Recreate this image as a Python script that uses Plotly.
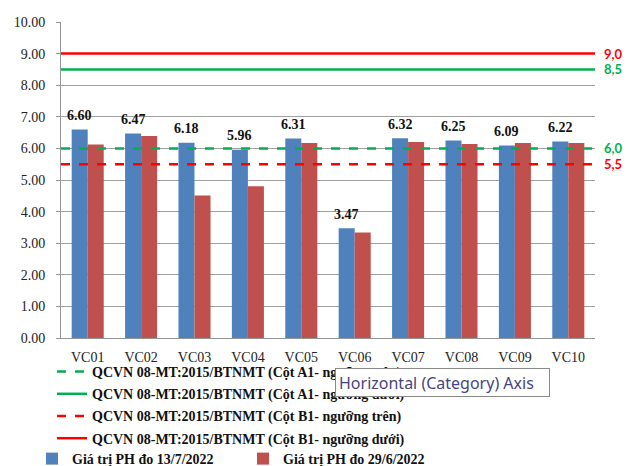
import plotly.graph_objects as go

categories = ["VC01", "VC02", "VC03", "VC04", "VC05", "VC06", "VC07", "VC08", "VC09", "VC10"]
ph_13_7 = [6.60, 6.47, 6.18, 5.96, 6.31, 3.47, 6.32, 6.25, 6.09, 6.22]
ph_29_6 = [6.12, 6.39, 4.51, 4.80, 6.17, 3.34, 6.20, 6.14, 6.17, 6.17]
label_13_7 = ["6.60", "6.47", "6.18", "5.96", "6.31", "3.47", "6.32", "6.25", "6.09", "6.22"]

limit_names = [
    "QCVN 08-MT:2015/BTNMT (Cột A1- ngưỡng trên)",
    "QCVN 08-MT:2015/BTNMT (Cột A1- ngưỡng dưới)",
    "QCVN 08-MT:2015/BTNMT (Cột B1- ngưỡng trên)",
    "QCVN 08-MT:2015/BTNMT (Cột B1- ngưỡng dưới)",
]
limit_values = [6.0, 8.5, 5.5, 9.0]
limit_labels = ["6,0", "8,5", "5,5", "9,0"]
limit_colors = ["#00B050", "#00B050", "#FF0000", "#FF0000"]
limit_dash = ["dash", "solid", "dash", "solid"]

bar_names = ["Giá trị PH đo 13/7/2022", "Giá trị PH đo 29/6/2022"]
bar_colors = ["#4F81BD", "#C0504D"]

tooltip_text = "Horizontal (Category) Axis"

SERIF = "Liberation Serif"
W, H = 630, 466
ML, MR, MT, MB = 61, 35, 22, 128
PW, PH = W - ML - MR, H - MT - MB

fig = go.Figure()

fig.add_trace(go.Bar(x=categories, y=ph_13_7, name="<b>" + bar_names[0] + "</b>",
                     marker=dict(color=bar_colors[0], line=dict(width=0)),
                     legend="legend2"))
fig.add_trace(go.Bar(x=categories, y=ph_29_6, name="<b>" + bar_names[1] + "</b>",
                     marker=dict(color=bar_colors[1], line=dict(width=0)),
                     legend="legend2"))

for nm, val, col, dsh in zip(limit_names, limit_values, limit_colors, limit_dash):
    fig.add_trace(go.Scatter(x=[0, 1], y=[val, val], xaxis="x2", mode="lines",
                             name="<b>" + nm + "</b>", legendgroup=nm,
                             line=dict(color=col, width=2.5, dash=dsh),
                             hoverinfo="skip", legend="legend"))

annotations = []
for c, v, t in zip(categories, ph_13_7, label_13_7):
    annotations.append(dict(x=c, y=v, xref="x", yref="y", text="<b>" + t + "</b>",
                            showarrow=False, xshift=-8, yshift=14,
                            font=dict(family=SERIF, size=14, color="#111111")))
for val, lab, col in zip(limit_values, limit_labels, limit_colors):
    annotations.append(dict(x=1, y=val, xref="paper", yref="y", text="<b>" + lab + "</b>",
                            showarrow=False, xanchor="left", xshift=7,
                            font=dict(family="Lato", size=13, color=col)))
# Excel tooltip visible in the screenshot
annotations.append(dict(x=(335 - ML) / PW, y=(MT + PH - 368) / PH, xref="paper", yref="paper",
                        text=tooltip_text, showarrow=False,
                        xanchor="left", yanchor="top", align="left",
                        width=207, height=21,
                        bgcolor="white", bordercolor="#8A8A8A", borderwidth=1, borderpad=3,
                        font=dict(family="Noto Sans", size=16, color="#45457F")))

fig.update_layout(
    width=W, height=H,
    margin=dict(l=ML, r=MR, t=MT, b=MB, autoexpand=False),
    paper_bgcolor="white", plot_bgcolor="white",
    barmode="group", bargap=0.4, bargroupgap=0,
    font=dict(family=SERIF, size=14, color="#222222"),
    xaxis=dict(type="category", showline=True, linecolor="#969696", linewidth=1,
               showgrid=False, ticks="", ticklabelstandoff=6, tickangle=0,
               tickfont=dict(family=SERIF, size=14, color="#222222")),
    xaxis2=dict(overlaying="x", range=[0, 1], visible=False, fixedrange=True),
    yaxis=dict(range=[0, 10], dtick=1, tickformat=".2f", showline=True,
               linecolor="#969696", linewidth=1, gridcolor="#A0A0A0", gridwidth=1,
               ticks="outside", ticklen=4, tickcolor="#969696", ticklabelstandoff=8,
               zeroline=False, tickfont=dict(family=SERIF, size=14, color="#222222")),
    legend=dict(xref="container", yref="container", x=52 / W, y=1 - 356 / H,
                xanchor="left", yanchor="top", orientation="v", tracegroupgap=1,
                bgcolor="rgba(0,0,0,0)",
                font=dict(family=SERIF, size=14, color="#111111"),
                itemwidth=30),
    legend2=dict(xref="container", yref="container", x=32 / W, y=1 - 443 / H,
                 xanchor="left", yanchor="top", orientation="h", entrywidth=166,
                 bgcolor="rgba(0,0,0,0)",
                 font=dict(family=SERIF, size=14, color="#111111"), itemwidth=30),
    annotations=annotations,
    showlegend=True,
)

post = """
document.body.style.margin='0';document.body.style.overflow='hidden';
var gd=document.getElementById('{plot_id}');
function raiseTip(){
  var anns=gd.querySelectorAll('.annotation');
  var lg=gd.querySelector('.legend');
  if(!anns.length||!lg) return;
  var tip=anns[anns.length-1];
  var svgs=gd.querySelectorAll('svg.main-svg');
  var top=svgs[svgs.length-1];
  top.appendChild(tip);
}
raiseTip();
"""
fig.write_html("out.html", post_script=post, config={"displayModeBar": False})
